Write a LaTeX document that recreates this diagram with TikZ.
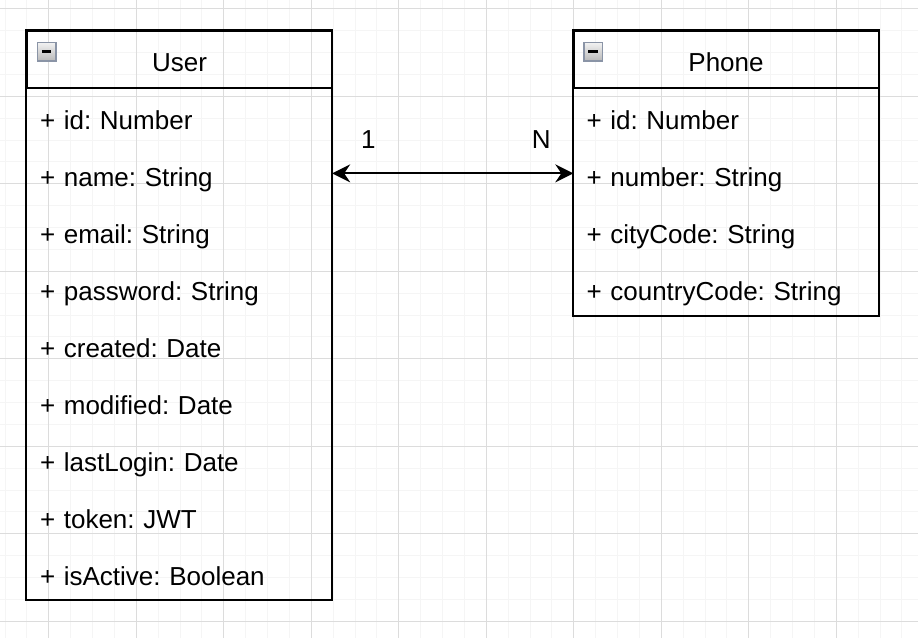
\documentclass[tikz,border=0pt]{standalone}
\usepackage{fontspec}
\setmainfont{Liberation Sans}
\usetikzlibrary{arrows.meta,positioning}
\frenchspacing

\definecolor{gridminor}{HTML}{F5F5F5}
\definecolor{gridmajor}{HTML}{DCDCDC}
\definecolor{iconedge}{HTML}{8A94A6}

\tikzset{
  classhead/.style={draw,line width=2pt,minimum width=305pt,minimum height=57pt,
    inner sep=0pt,text height=25pt,text depth=2pt},
  attrrow/.style={minimum width=305pt,minimum height=56.9pt,inner xsep=13pt,inner ysep=0pt,
    text width=279pt,align=left,text height=28pt,text depth=1pt},
  foldicon/.style={draw=iconedge,line width=1.5pt,minimum size=18.5pt,inner sep=0pt,
    top color=gray!10,bottom color=gray!55,
    path picture={\draw[line width=2.5pt,black]
      ([xshift=4.5pt]path picture bounding box.west) -- ([xshift=-4.5pt]path picture bounding box.east);}},
  assoc/.style={line width=2pt,{Stealth[length=18pt,width=18pt,inset=6pt]}-{Stealth[length=18pt,width=18pt,inset=6pt]}}
}

\begin{document}
\begin{tikzpicture}[x=1pt,y=-1pt,font=\fontsize{26pt}{30pt}\selectfont]
\useasboundingbox[fill=white] (0,0) rectangle (918,638);

% background grid
\foreach \gx in {0,...,41}
  \draw[gridminor,line width=1pt] ({5.05+21.875*\gx},0) -- ++(0,638);
\foreach \gy in {0,...,29}
  \draw[gridminor,line width=1pt] (0,{8.8+21.875*\gy}) -- ++(918,0);
\foreach \gx in {0,...,10}
  \draw[gridmajor,line width=1pt] ({48.8+87.5*\gx},0) -- ++(0,638);
\foreach \gy in {0,...,7}
  \draw[gridmajor,line width=1pt] (0,{8.8+87.5*\gy}) -- ++(918,0);

% User
\node[classhead] (uhead) at (179.5,59.5) {User};
\node[foldicon] (uicon) at (46.5,51.5) {};
\foreach \txt [count=\i] in {+ id: Number,+ name: String,+ email: String,
    + password: String,+ created: Date,+ modified: Date,+ lastLogin: Date,
    + token: JWT,+ isActive: Boolean}
  \node[attrrow] (u\i) at (179.5,{116.45+56.9*(\i-1)}) {\txt};
\draw[line width=2pt] (uhead.north west) rectangle (u9.south east);

% Phone
\node[classhead] (phead) at (726,59.5) {Phone};
\node[foldicon] (picon) at (593,51.5) {};
\foreach \txt [count=\i] in {+ id: Number,+ number: String,+ cityCode: String,
    + countryCode: String}
  \node[attrrow] (p\i) at (726,{116.45+56.9*(\i-1)}) {\txt};
\draw[line width=2pt] (phead.north west) rectangle (p4.south east);

% association
\draw[assoc] (u2.east) -- (p2.west)
  node[pos=0.15,yshift=34pt] (one) {1}
  node[pos=0.867,yshift=34pt] (many) {N};
\end{tikzpicture}
\end{document}
